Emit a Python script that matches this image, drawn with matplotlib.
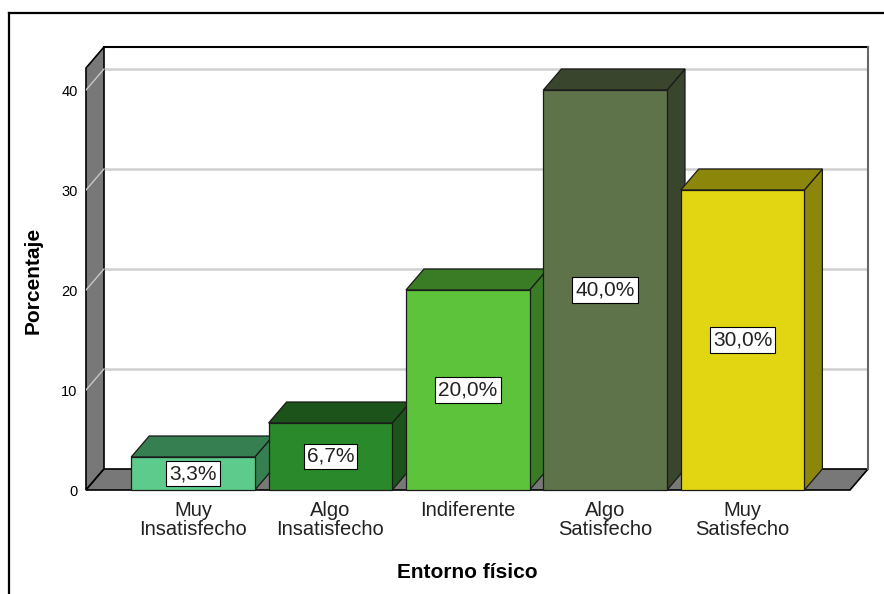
import matplotlib
matplotlib.use("Agg")
import matplotlib.pyplot as plt
from matplotlib.patches import Polygon, Rectangle
from matplotlib.lines import Line2D

plt.rcParams['font.family'] = ['Liberation Sans', 'DejaVu Sans']

# datos: Entorno fisico (porcentaje)
categorias = ["Muy\nInsatisfecho", "Algo\nInsatisfecho", "Indiferente",
              "Algo\nSatisfecho", "Muy\nSatisfecho"]
porcentajes = [3.3, 6.7, 20.0, 40.0, 30.0]
y_ticks = [0, 10, 20, 30, 40]

# colores de cara frontal y de caras laterales/superior
col_frente = ["#5ccb8b", "#2a8a2b", "#5dc33a", "#5e7349", "#e2d612"]
col_lado = ["#357f50", "#1b531b", "#3a7c25", "#39452c", "#8c860a"]

W, H = 884, 594
# limites del "cubo" 3D en unidades de datos
X0, X1 = -0.779, 4.782
DX, DY = 0.131, 2.1   # desplazamiento de profundidad
YMAX = 42.2
ANCHO = 0.9
BORDE = "#1a1a1a"

fig = plt.figure(figsize=(W / 100, H / 100), dpi=100)
ax = fig.add_axes([86 / W, (H - 490) / H, (868 - 86) / W, (490 - 47) / H])
ax.set_xlim(X0, X1 + DX)
ax.set_ylim(0, YMAX + DY)
for s in ax.spines.values():
    s.set_visible(False)

# pared del fondo
ax.add_patch(Rectangle((X0 + DX, DY), X1 - X0, YMAX, fc="white", ec="none", zorder=0))
ax.plot([X0 + DX, X1 + DX], [YMAX + DY, YMAX + DY], color="black", lw=1.5, zorder=3, clip_on=False)
ax.plot([X1 + DX, X1 + DX], [DY, YMAX + DY], color="#666666", lw=1.5, zorder=3, clip_on=False)

# lineas de cuadricula
for v in y_ticks[1:]:
    ax.plot([X0 + DX, X1 + DX], [v + DY, v + DY], color="#d0d0d0", lw=1.8, zorder=1)

# pared izquierda
ax.add_patch(Polygon([(X0, 0), (X0 + DX, DY), (X0 + DX, YMAX + DY), (X0, YMAX)],
                     fc="#787878", ec="black", lw=1.2, zorder=2, clip_on=False))
for v in y_ticks[1:]:
    ax.plot([X0, X0 + DX], [v, v + DY], color="#c8c8c8", lw=1, zorder=3)

# suelo
ax.add_patch(Polygon([(X0, 0), (X1, 0), (X1 + DX, DY), (X0 + DX, DY)],
                     fc="#787878", ec="black", lw=1.2, zorder=2, clip_on=False))

# barras 3D
for i, (v, cf, cl) in enumerate(zip(porcentajes, col_frente, col_lado)):
    l, r = i - ANCHO / 2, i + ANCHO / 2
    z = 4 + i
    ax.add_patch(Polygon([(r, 0), (r + DX, DY), (r + DX, v + DY), (r, v)],
                         fc=cl, ec=BORDE, lw=0.9, zorder=z, clip_on=False))
    ax.add_patch(Polygon([(l, v), (r, v), (r + DX, v + DY), (l + DX, v + DY)],
                         fc=cl, ec=BORDE, lw=0.9, zorder=z, clip_on=False))
    ax.add_patch(Rectangle((l, 0), ANCHO, v, fc=cf, ec=BORDE, lw=0.9, zorder=z, clip_on=False))
    ax.text(i, v / 2, f"{v:.1f}%".replace(".", ","), ha="center", va="center",
            fontsize=15, color="#222222", zorder=z + 0.5,
            bbox=dict(boxstyle="square,pad=0.15", fc="white", ec="black", lw=0.8))

ax.set_yticks(y_ticks)
ax.set_yticklabels([str(t) for t in y_ticks])
ax.tick_params(axis="y", length=0, pad=6, labelsize=10.5)
ax.set_xticks(range(len(categorias)))
ax.set_xticklabels(categorias, fontsize=14.5, color="#222222")
ax.tick_params(axis="x", length=0, pad=8)
for lbl in ax.get_xticklabels():
    lbl.set_linespacing(1.0)

fig.text(33 / W, 1 - 280 / H, "Porcentaje", rotation=90, ha="center", va="center",
         fontsize=15, fontweight="bold")
fig.text(467 / W, 1 - 573 / H, "Entorno físico", ha="center", va="center",
         fontsize=15, fontweight="bold")

# marco exterior
fig.add_artist(Line2D([9 / W, 1], [1 - 13 / H, 1 - 13 / H], color="black", lw=1.6))
fig.add_artist(Line2D([9 / W, 9 / W], [0, 1 - 13 / H], color="black", lw=1.6))

fig.savefig("out.png", dpi=100)
